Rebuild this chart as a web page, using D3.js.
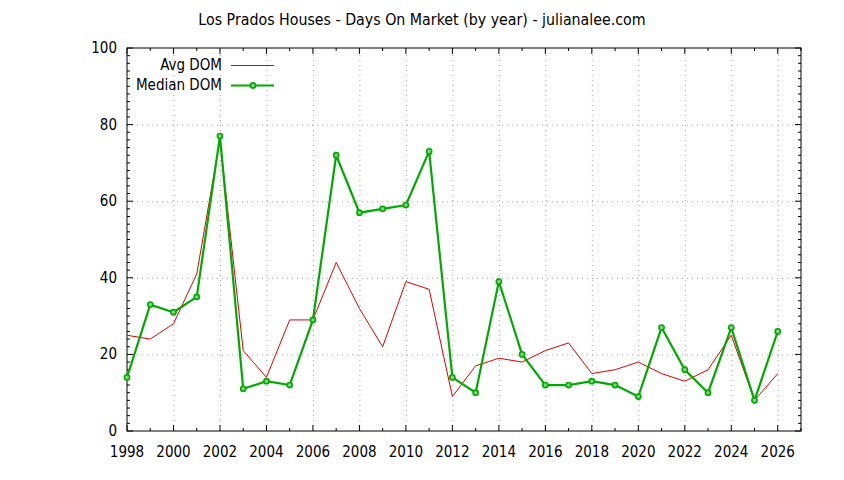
<!DOCTYPE html>
<html>
<head>
<meta charset="utf-8">
<script src="https://cdn.jsdelivr.net/npm/d3@7"></script>
<style>
  body { margin: 0; background: #fff; }
  svg text { font-family: "DejaVu Sans Condensed", "DejaVu Sans", sans-serif; font-stretch: condensed; font-size: 15px; fill: #000; }
  svg text.title { font-size: 15.8px; }
  .grid line { stroke: #a0a0a0; stroke-dasharray: 1,4; }
</style>
</head>
<body>
<div id="chart"></div>
<script>
// Data
const years = [1998, 1999, 2000, 2001, 2002, 2003, 2004, 2005, 2006, 2007, 2008, 2009, 2010, 2011,
  2012, 2013, 2014, 2015, 2016, 2017, 2018, 2019, 2020, 2021, 2022, 2023, 2024, 2025, 2026];
const avgDom = [25, 24, 28, 41, 76, 21, 14, 29, 29, 44, 32, 22, 39, 37,
  9, 17, 19, 18, 21, 23, 15, 16, 18, 15, 13, 16, 25, 8, 15];
const medianDom = [14, 33, 31, 35, 77, 11, 13, 12, 29, 72, 57, 58, 59, 73,
  14, 10, 39, 20, 12, 12, 13, 12, 9, 27, 16, 10, 27, 8, 26];
const xTicks = [1998, 2000, 2002, 2004, 2006, 2008, 2010, 2012, 2014, 2016, 2018, 2020, 2022, 2024, 2026];
const yTicks = [0, 20, 40, 60, 80, 100];

const W = 844, H = 480;
const margin = { top: 48, right: 43, bottom: 49, left: 127 };
const width = W - margin.left - margin.right;
const height = H - margin.top - margin.bottom;

const svg = d3.select("#chart").append("svg")
  .attr("width", W).attr("height", H);

svg.append("text")
  .attr("class", "title")
  .attr("x", W / 2).attr("y", 25)
  .attr("text-anchor", "middle")
  .text("Los Prados Houses - Days On Market (by year) - julianalee.com");

const g = svg.append("g")
  .attr("transform", "translate(" + margin.left + "," + margin.top + ")");

const x = d3.scaleLinear().domain([1998, 2027]).range([0, width]);
const y = d3.scaleLinear().domain([0, 100]).range([height, 0]);

const minorX = d3.range(1998, 2028, 1);
const minorY = d3.range(0, 101, 2);

// grid
g.append("g").attr("class", "grid")
  .attr("transform", "translate(0," + height + ")")
  .call(d3.axisBottom(x).tickValues(xTicks.slice(1)).tickSize(-height).tickFormat(""))
  .call(a => a.select(".domain").remove());
g.append("g").attr("class", "grid")
  .call(d3.axisLeft(y).tickValues(yTicks.slice(1, -1)).tickSize(-width).tickFormat(""))
  .call(a => a.select(".domain").remove());

// ticks (inward, all four sides)
const tickG = g.append("g").attr("stroke", "#000").attr("stroke-width", 1);
minorX.forEach(v => {
  const len = xTicks.includes(v) ? 6 : 3;
  tickG.append("line").attr("x1", x(v)).attr("x2", x(v)).attr("y1", height).attr("y2", height - len);
  tickG.append("line").attr("x1", x(v)).attr("x2", x(v)).attr("y1", 0).attr("y2", len);
});
minorY.forEach(v => {
  const len = yTicks.includes(v) ? 6 : 3;
  tickG.append("line").attr("x1", 0).attr("x2", len).attr("y1", y(v)).attr("y2", y(v));
  tickG.append("line").attr("x1", width).attr("x2", width - len).attr("y1", y(v)).attr("y2", y(v));
});

// tick labels
g.selectAll(".xl").data(xTicks).join("text")
  .attr("x", d => x(d)).attr("y", height + 26)
  .attr("text-anchor", "middle")
  .text(d => d);
g.selectAll(".yl").data(yTicks).join("text")
  .attr("x", -10).attr("y", d => y(d) + 5)
  .attr("text-anchor", "end")
  .text(d => d);

// border
g.append("rect").attr("width", width).attr("height", height)
  .attr("fill", "none").attr("stroke", "#000").attr("stroke-width", 1);

const line = d3.line().x((d, i) => x(years[i])).y(d => y(d));

g.append("path").datum(avgDom)
  .attr("fill", "none").attr("stroke", "#dd0000").attr("stroke-width", 1)
  .attr("d", line);

g.append("path").datum(medianDom)
  .attr("fill", "none").attr("stroke", "#00aa00").attr("stroke-width", 2.2)
  .attr("d", line);

g.selectAll(".pt").data(medianDom).join("circle")
  .attr("cx", (d, i) => x(years[i])).attr("cy", d => y(d))
  .attr("r", 2.6)
  .attr("fill", "#7fd47f").attr("stroke", "#00aa00").attr("stroke-width", 1.6);

// legend
const lg = svg.append("g");
lg.append("text").attr("x", 222).attr("y", 70).attr("text-anchor", "end").text("Avg DOM");
lg.append("line").attr("x1", 231).attr("x2", 274).attr("y1", 65.5).attr("y2", 65.5)
  .attr("stroke", "#dd0000").attr("stroke-width", 1);
lg.append("text").attr("x", 222).attr("y", 90).attr("text-anchor", "end").text("Median DOM");
lg.append("line").attr("x1", 231).attr("x2", 274).attr("y1", 85.5).attr("y2", 85.5)
  .attr("stroke", "#00aa00").attr("stroke-width", 2.2);
lg.append("circle").attr("cx", 253).attr("cy", 85.5).attr("r", 2.6)
  .attr("fill", "#7fd47f").attr("stroke", "#00aa00").attr("stroke-width", 1.6);
</script>
</body>
</html>
